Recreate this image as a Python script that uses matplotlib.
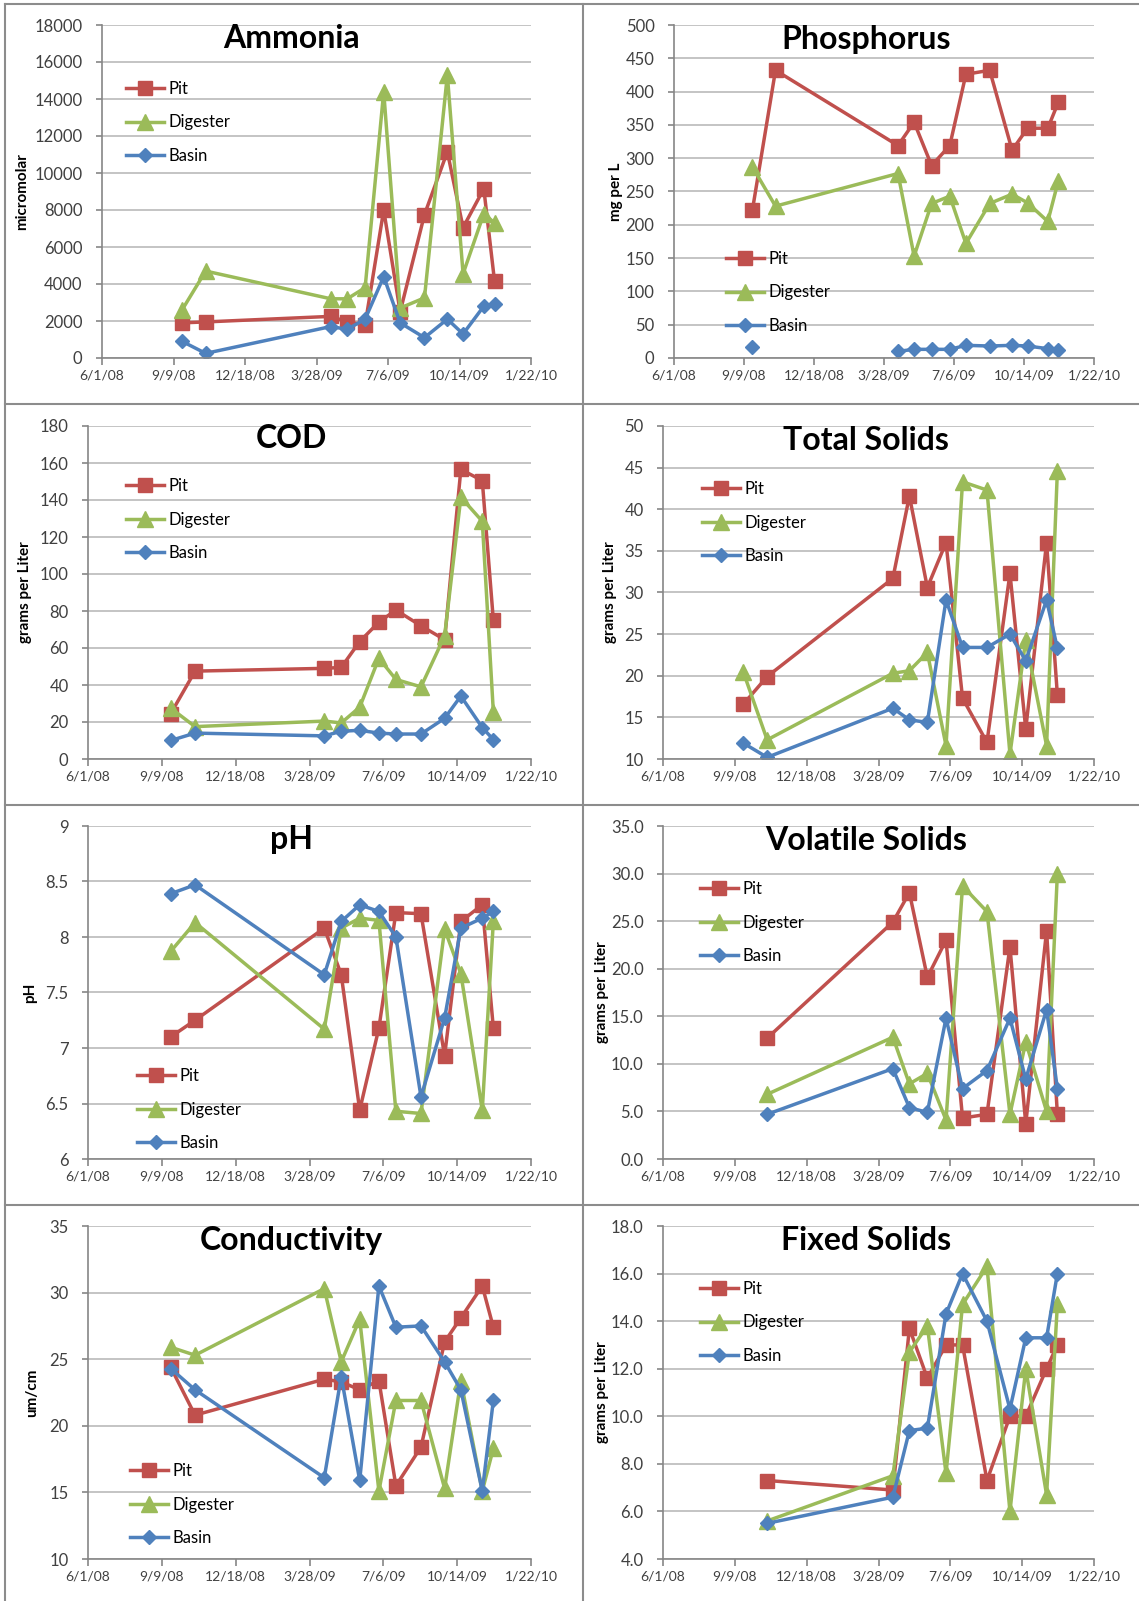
import datetime as dt
import matplotlib
matplotlib.use("Agg")
import matplotlib.pyplot as plt
import matplotlib.dates as mdates
from matplotlib.lines import Line2D
import numpy as np

nan = np.nan

dates = ['2008-09-21', '2008-10-24', '2009-04-17', '2009-05-10', '2009-06-04', '2009-06-30',
         '2009-07-23', '2009-08-26', '2009-09-27', '2009-10-19', '2009-11-17', '2009-12-02']
series_names = ['Pit', 'Digester', 'Basin']

ammonia_pit = [1900, 1950, 2250, 1950, 1800, 8000, 2500, 7750, 11150, 7050, 9150, 4150]
ammonia_digester = [2600, 4700, 3200, 3200, 3800, 14400, 2700, 3250, 15300, 4550, 7800, 7300]
ammonia_basin = [900, 250, 1700, 1550, 2100, 4400, 1900, 1100, 2100, 1300, 2800, 2900]

phos_pit = [222, 432, 319, 354, 289, 319, 426, 432, 312, 345, 345, 384]
phos_digester = [287, 228, 277, 153, 232, 243, 172, 232, 246, 233, 205, 266]
phos_basin = [17, nan, 10, 13, 13, 13, 19, 18, 19, 18, 14, 12]

cod_pit = [24.5, 47.5, 49, 49.5, 63.5, 74, 80.5, 72, 64.5, 156.5, 150.5, 75]
cod_digester = [27.5, 17.5, 20.5, 19.5, 28, 54.5, 43, 39, 66.5, 141.5, 128.5, 25.5]
cod_basin = [10, 14, 12.5, 15, 15.5, 14, 13.5, 13.5, 22, 34, 17, 10.5]

ts_pit = [16.6, 19.9, 31.7, 41.6, 30.6, 36.0, 17.3, 12.0, 32.3, 13.6, 36.0, 17.7]
ts_digester = [20.4, 12.3, 20.3, 20.6, 22.8, 11.6, 43.3, 42.3, 10.6, 24.3, 11.6, 44.6]
ts_basin = [11.9, 10.2, 16.1, 14.7, 14.4, 29.1, 23.4, 23.4, 25.0, 21.8, 29.1, 23.3]

ph_pit = [7.10, 7.25, 8.08, 7.66, 6.44, 7.18, 8.22, 8.21, 6.93, 8.14, 8.29, 7.18]
ph_digester = [7.87, 8.13, 7.17, 8.08, 8.17, 8.15, 6.43, 6.41, 8.07, 7.67, 6.44, 8.14]
ph_basin = [8.39, 8.47, 7.66, 8.14, 8.29, 8.23, 8.00, 6.56, 7.27, 8.08, 8.17, 8.23]

vs_pit = [nan, 12.7, 24.9, 28.0, 19.1, 23.0, 4.3, 4.7, 22.3, 3.7, 24.0, 4.7]
vs_digester = [nan, 6.8, 12.8, 7.9, 9.0, 4.1, 28.7, 26.0, 4.7, 12.3, 5.0, 30.0]
vs_basin = [nan, 4.7, 9.5, 5.4, 4.9, 14.8, 7.4, 9.3, 14.8, 8.4, 15.7, 7.4]

cond_pit = [24.4, 20.8, 23.5, 23.3, 22.7, 23.4, 15.5, 18.4, 26.3, 28.1, 30.5, 27.4]
cond_digester = [25.9, 25.3, 30.3, 24.8, 28.0, 15.1, 21.9, 21.9, 15.3, 23.4, 15.1, 18.3]
cond_basin = [24.3, 22.7, 16.1, 23.7, 15.9, 30.5, 27.4, 27.5, 24.8, 22.7, 15.1, 21.9]

fs_pit = [nan, 7.3, 6.9, 13.7, 11.6, 13.0, 13.0, 7.3, 10.0, 10.0, 12.0, 13.0]
fs_digester = [nan, 5.6, 7.5, 12.7, 13.8, 7.6, 14.7, 16.3, 6.0, 12.0, 6.7, 14.7]
fs_basin = [nan, 5.5, 6.6, 9.4, 9.5, 14.3, 16.0, 14.0, 10.3, 13.3, 13.3, 16.0]

W, H = 1139, 1601
plt.rcParams['font.family'] = ['Lato', 'DejaVu Sans']

colors = ['#C0504D', '#9BBB59', '#4F81BD']
markers = ['s', '^', 'D']
msizes = [10, 11, 7.5]

x = [dt.datetime.strptime(d, '%Y-%m-%d') for d in dates]
xmin = dt.datetime(2008, 6, 1)
xticks = [xmin + dt.timedelta(days=100 * i) for i in range(7)]


def date_label(v, pos):
    d = mdates.num2date(v)
    return '%d/%d/%s' % (d.month, d.day, d.strftime('%y'))


def panel(fig, box, title, ylabel, data, yticks, yfmt, tcenter, ttop, ylab_x, leg_xy):
    x0, x1, ytop, ybot = box
    ax = fig.add_axes([x0 / W, 1 - ybot / H, (x1 - x0) / W, (ybot - ytop) / H])
    for vals, c, m, ms, name in zip(data, colors, markers, msizes, series_names):
        ax.plot(x, vals, color=c, lw=2.5, marker=m, markersize=ms, label=name)
    ax.set_xlim(xticks[0], xticks[-1])
    ax.set_xticks(xticks)
    ax.xaxis.set_major_formatter(plt.FuncFormatter(date_label))
    ax.set_ylim(yticks[0], yticks[-1])
    ax.set_yticks(yticks)
    ax.yaxis.set_major_formatter(plt.FuncFormatter(lambda v, p: yfmt.format(v)))
    ax.grid(axis='y', color='#BFBFBF', lw=1.3)
    ax.set_axisbelow(True)
    for s in ['top', 'right']:
        ax.spines[s].set_visible(False)
    for s in ['left', 'bottom']:
        ax.spines[s].set_color('#868686')
        ax.spines[s].set_linewidth(1.2)
    ax.tick_params(axis='x', labelsize=10, colors='#868686', labelcolor='#404040',
                   length=5, width=1.2, pad=3)
    ax.tick_params(axis='y', labelsize=12, colors='#868686', labelcolor='#404040',
                   length=4, width=1.2, pad=10)
    fig.text(tcenter / W, 1 - ttop / H, title, fontsize=23, fontweight='bold',
             ha='center', va='center')
    fig.text(ylab_x / W, 1 - (ytop + ybot) / 2 / H, ylabel, fontsize=11,
             fontweight='bold', rotation=90, ha='center', va='center')
    lx, ly = leg_xy
    ax.legend(loc='upper left', bbox_to_anchor=(lx / W, 1 - (ly - 8) / H),
              bbox_transform=fig.transFigure, frameon=False, fontsize=12,
              borderpad=0, handlelength=2.3, handletextpad=0.25,
              labelspacing=1.05, borderaxespad=0)
    return ax


fig = plt.figure(figsize=(W / 100, H / 100), dpi=100)

panel(fig, (102, 531, 25, 358), 'Ammonia', 'micromolar',
      [ammonia_pit, ammonia_digester, ammonia_basin], list(range(0, 18001, 2000)),
      '{:.0f}', 291, 39, 22, (126, 89))
panel(fig, (674, 1094, 25, 358), 'Phosphorus', 'mg per L',
      [phos_pit, phos_digester, phos_basin], list(range(0, 501, 50)),
      '{:.0f}', 866, 39, 616, (726, 259))
panel(fig, (88, 531, 426, 759), 'COD', 'grams per Liter',
      [cod_pit, cod_digester, cod_basin], list(range(0, 181, 20)),
      '{:.0f}', 291, 439, 25, (126, 486))
panel(fig, (663, 1094, 426, 759), 'Total Solids', 'grams per Liter',
      [ts_pit, ts_digester, ts_basin], list(range(10, 51, 5)),
      '{:.0f}', 866, 440, 610, (702, 489))
panel(fig, (88, 531, 826, 1159), 'pH', 'pH',
      [ph_pit, ph_digester, ph_basin], [6, 6.5, 7, 7.5, 8, 8.5, 9],
      '{:g}', 291, 840, 30, (137, 1076))
panel(fig, (663, 1094, 826, 1159), 'Volatile Solids', 'grams per Liter',
      [vs_pit, vs_digester, vs_basin], list(range(0, 36, 5)),
      '{:.1f}', 866, 840, 602, (700, 889))
panel(fig, (88, 531, 1226, 1559), 'Conductivity', 'um/cm',
      [cond_pit, cond_digester, cond_basin], list(range(10, 36, 5)),
      '{:.0f}', 291, 1240, 32, (130, 1471))
panel(fig, (663, 1094, 1226, 1559), 'Fixed Solids', 'grams per Liter',
      [fs_pit, fs_digester, fs_basin], list(range(4, 19, 2)),
      '{:.1f}', 866, 1240, 602, (700, 1289))

# table borders around the charts
border = dict(color='#8C8C8C', lw=1.5, transform=fig.transFigure)
fig.add_artist(Line2D([5 / W, 5 / W], [0, 1 - 4 / H], **border))
fig.add_artist(Line2D([583 / W, 583 / W], [0, 1 - 4 / H], **border))
for yy in [4, 404, 805, 1205]:
    fig.add_artist(Line2D([5 / W, 1], [1 - yy / H, 1 - yy / H], **border))

fig.savefig('out.png', dpi=100)
